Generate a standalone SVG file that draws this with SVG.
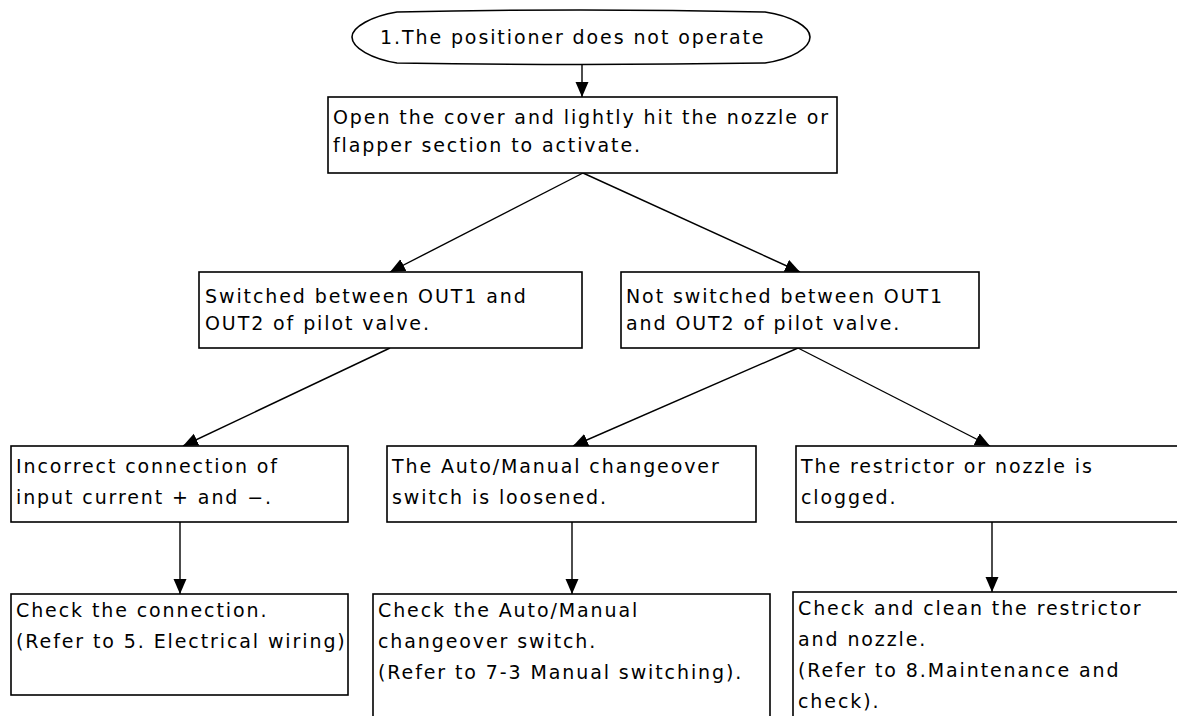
<svg xmlns="http://www.w3.org/2000/svg" width="1177" height="716" viewBox="0 0 1177 716">
<style>
.box{fill:#fff;stroke:#000;stroke-width:1.6}
.t{font-family:"DejaVu Sans","Liberation Sans",sans-serif;font-size:19px;letter-spacing:1.9px;fill:#000}
.c{stroke:#000;stroke-width:1.4;fill:none;marker-end:url(#ah)}
</style>
<defs>
<marker id="ah" markerUnits="userSpaceOnUse" markerWidth="16" markerHeight="14" refX="15" refY="6.5" orient="auto">
<path d="M0,0 L15,6.5 L0,13 Z" fill="#000"/>
</marker>
</defs>
<rect width="1177" height="716" fill="#fff"/>
<g id="connectors">
<line class="c" x1="582" y1="63" x2="582" y2="97"/>
<line class="c" x1="583" y1="173" x2="390" y2="272"/>
<line class="c" x1="583" y1="173" x2="800" y2="272"/>
<line class="c" x1="390" y1="348" x2="183" y2="446"/>
<line class="c" x1="798" y1="348" x2="573" y2="446"/>
<line class="c" x1="798" y1="348" x2="990" y2="446"/>
<line class="c" x1="180" y1="522" x2="180" y2="594"/>
<line class="c" x1="572" y1="522" x2="572" y2="594"/>
<line class="c" x1="992" y1="522" x2="992" y2="592"/>
</g>
<g id="start">
<path class="box" d="M397,12 Q580,8 765,12 C792,16 810,27 810,37 C810,48 792,59 765,63 Q580,66 397,63 C372,59 352,48 352,37 C352,27 372,16 397,12 Z"/>
<text class="t" x="380" y="44">1.The positioner does not operate</text>
</g>
<g id="open-cover">
<rect class="box" x="328" y="97" width="509" height="76"/>
<text class="t" x="333" y="124">Open the cover and lightly hit the nozzle or</text>
<text class="t" x="333" y="152">flapper section to activate.</text>
</g>
<g id="switched">
<rect class="box" x="199" y="272" width="383" height="76"/>
<text class="t" x="205" y="303">Switched between OUT1 and</text>
<text class="t" x="205" y="330">OUT2 of pilot valve.</text>
</g>
<g id="not-switched">
<rect class="box" x="621" y="272" width="358" height="76"/>
<text class="t" x="626" y="303">Not switched between OUT1</text>
<text class="t" x="626" y="330">and OUT2 of pilot valve.</text>
</g>
<g id="incorrect-connection">
<rect class="box" x="11" y="446" width="337" height="76"/>
<text class="t" x="16" y="473">Incorrect connection of</text>
<text class="t" x="16" y="504">input current + and −.</text>
</g>
<g id="switch-loosened">
<rect class="box" x="387" y="446" width="369" height="76"/>
<text class="t" x="392" y="473">The Auto/Manual changeover</text>
<text class="t" x="392" y="504">switch is loosened.</text>
</g>
<g id="clogged">
<rect class="box" x="796" y="446" width="400" height="76"/>
<text class="t" x="801" y="473">The restrictor or nozzle is</text>
<text class="t" x="801" y="504">clogged.</text>
</g>
<g id="check-connection">
<rect class="box" x="11" y="594" width="337" height="101"/>
<text class="t" x="16" y="617">Check the connection.</text>
<text class="t" x="16" y="648">(Refer to 5. Electrical wiring)</text>
</g>
<g id="check-switch">
<rect class="box" x="373" y="594" width="397" height="150"/>
<text class="t" x="378" y="617">Check the Auto/Manual</text>
<text class="t" x="378" y="648">changeover switch.</text>
<text class="t" x="378" y="679">(Refer to 7-3 Manual switching).</text>
</g>
<g id="check-clean">
<rect class="box" x="793" y="592" width="400" height="150"/>
<text class="t" x="798" y="615">Check and clean the restrictor</text>
<text class="t" x="798" y="646">and nozzle.</text>
<text class="t" x="798" y="677">(Refer to 8.Maintenance and</text>
<text class="t" x="798" y="708">check).</text>
</g>
</svg>
